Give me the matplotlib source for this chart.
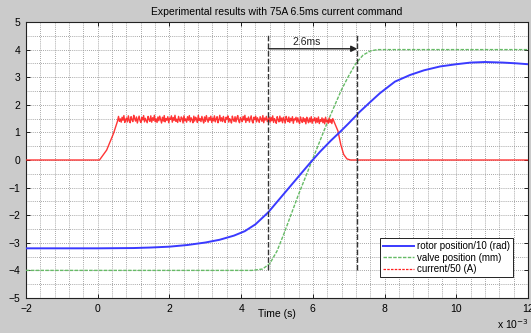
import matplotlib
matplotlib.use("Agg")
import matplotlib.pyplot as plt
from matplotlib.ticker import MultipleLocator
from matplotlib.lines import Line2D

# ---------------- data (time in ms) ----------------
t_rotor = [-2, -1, 0, 1, 1.5, 2, 2.5, 3, 3.4, 3.8,
           4.1, 4.4, 4.76, 5.0, 5.3, 5.6, 5.9, 6.2, 6.5, 6.76,
           7.0, 7.31, 7.6, 7.87, 8.29, 8.71, 9.1, 9.55, 10.0, 10.4,
           10.8, 11.3, 11.7, 12]
rotor = [-3.2, -3.2, -3.2, -3.19, -3.17, -3.14, -3.08, -2.99, -2.89, -2.74,
         -2.58, -2.33, -1.89, -1.52, -1.06, -0.6, -0.14, 0.3, 0.7, 1.02,
         1.33, 1.75, 2.1, 2.42, 2.84, 3.08, 3.25, 3.39, 3.47, 3.53,
         3.55, 3.53, 3.5, 3.47]

t_valve = [-2, 4.3, 4.6, 4.8, 5.0, 5.2, 5.4, 5.6, 5.8, 6.0, 6.2, 6.4,
           6.6, 6.8, 7.0, 7.2, 7.4, 7.6, 7.8, 12]
valve = [-4, -4, -3.95, -3.75, -3.3, -2.65, -1.95, -1.25, -0.6, 0.05, 0.7, 1.35,
         1.95, 2.55, 3.05, 3.5, 3.8, 3.95, 4.0, 4.0]

t_cur_rise = [-2, 0.05, 0.25, 0.44, 0.55]
cur_rise = [0, 0, 0.36, 0.96, 1.4]
cur_band = [1.58, 1.40, 1.49, 1.37, 1.55, 1.44, 1.61, 1.36, 1.47, 1.52,
            1.38, 1.60, 1.43, 1.35, 1.57, 1.46, 1.39, 1.62, 1.50, 1.41,
            1.56, 1.34, 1.48, 1.59, 1.42, 1.36, 1.54, 1.45, 1.61, 1.38,
            1.51, 1.43, 1.35, 1.58, 1.47, 1.40, 1.60, 1.37, 1.53, 1.44,
            1.62, 1.39, 1.49, 1.36, 1.56, 1.42, 1.59, 1.46, 1.34, 1.55,
            1.41, 1.61, 1.38, 1.50, 1.44, 1.57, 1.35, 1.52, 1.47, 1.60,
            1.37, 1.54, 1.43, 1.62, 1.40, 1.48, 1.36, 1.58, 1.45, 1.39,
            1.56, 1.51, 1.34, 1.60, 1.42, 1.49, 1.37, 1.57, 1.44, 1.61,
            1.38, 1.53, 1.46, 1.35, 1.59, 1.41, 1.55, 1.48, 1.36, 1.62,
            1.43, 1.50, 1.39, 1.58, 1.45, 1.34, 1.56, 1.40, 1.61, 1.47,
            1.37, 1.54, 1.44, 1.59, 1.36, 1.52, 1.42, 1.60, 1.38, 1.49,
            1.57, 1.35, 1.46, 1.62, 1.41, 1.53, 1.39, 1.58, 1.43, 1.36,
            1.55, 1.48, 1.60, 1.37, 1.50, 1.44, 1.34, 1.59, 1.46, 1.40,
            1.57, 1.38, 1.52, 1.61, 1.42, 1.35, 1.54, 1.47, 1.39, 1.58,
            1.45, 1.62, 1.36, 1.51, 1.43, 1.56, 1.37, 1.49, 1.60, 1.41,
            1.34, 1.55, 1.46, 1.59, 1.38, 1.53, 1.44, 1.36, 1.57, 1.48,
            1.40, 1.61, 1.35, 1.52, 1.45, 1.58, 1.39, 1.47, 1.56, 1.37,
            1.54, 1.42, 1.60, 1.36, 1.50, 1.43, 1.33, 1.57, 1.46, 1.38,
            1.59, 1.41, 1.52, 1.35, 1.55, 1.44, 1.34, 1.58, 1.47, 1.39,
            1.56, 1.36, 1.51, 1.42, 1.57, 1.33, 1.49, 1.45, 1.55, 1.37,
            1.53, 1.40, 1.32, 1.56, 1.44, 1.36, 1.54, 1.39, 1.50, 1.31,
            1.55, 1.43, 1.35, 1.52, 1.38, 1.57, 1.33, 1.48, 1.42, 1.54,
            1.34, 1.51, 1.37, 1.56, 1.32, 1.46, 1.40, 1.53, 1.35, 1.49,
            1.31, 1.55, 1.38, 1.44, 1.33, 1.52, 1.36, 1.47, 1.32, 1.50]
t_band_start = 0.58
t_band_step = 0.025
t_cur_fall = [6.62, 6.7, 6.78, 6.86, 6.95, 7.05, 12]
cur_fall = [1.3, 1.05, 0.55, 0.2, 0.04, 0.0, 0.0]

marker_t = [4.76, 7.24]
marker_y = (-4.0, 4.55)
arrow_y = 4.03
arrow_label = "2.6ms"

title = "Experimental results with 75A 6.5ms current command"
xlabel = "Time (s)"
legend_labels = ["rotor position/10 (rad)", "valve position (mm)", "current/50 (A)"]
xticks = [-2, 0, 2, 4, 6, 8, 10, 12]
yticks = [-5, -4, -3, -2, -1, 0, 1, 2, 3, 4, 5]

# build current series
t_band = [t_band_start + i * t_band_step for i in range(len(cur_band))]
t_cur = t_cur_rise + t_band + t_cur_fall
cur = cur_rise + cur_band + cur_fall

# ---------------- figure ----------------
plt.rcParams['font.family'] = ['Liberation Sans', 'DejaVu Sans']
fig = plt.figure(figsize=(5.31, 3.33), dpi=100, facecolor='#cbcbcb')
ax = fig.add_axes([26/531, 1-298/333, (528-26)/531, (298-22)/333])
ax.set_facecolor('white')

blue = '#3a3aff'
green = '#66bb66'
red = '#ff2020'
ax.plot(t_rotor, rotor, color=blue, lw=1.4, zorder=4)
ax.plot(t_valve, valve, color=green, lw=1.0, dashes=(2.5, 1), zorder=3)
ax.plot(t_cur, cur, color=red, lw=1.0, alpha=0.9, zorder=3)

ax.vlines(marker_t, marker_y[0], marker_y[1], colors='#333333', linestyles=(0, (4, 1.5)), lw=1.0, zorder=5)
ax.annotate('', xy=(marker_t[1], arrow_y), xytext=(marker_t[0], arrow_y),
            arrowprops=dict(arrowstyle='-|>', color='#222222', lw=1.0,
                            mutation_scale=9, shrinkA=0, shrinkB=0), zorder=6)
ax.text(5.83, 4.27, arrow_label, ha='center', va='center', fontsize=7.5, color='#222222')

ax.set_xlim(-2, 12)
ax.set_ylim(-5, 5)
ax.set_xticks(xticks)
ax.set_yticks(yticks)
ax.xaxis.set_minor_locator(MultipleLocator(0.4))
ax.yaxis.set_minor_locator(MultipleLocator(0.5))
ax.grid(True, which='both', color='#8a8a8a', linestyle=(0, (1, 1.5)), lw=0.6)
ax.set_axisbelow(True)
ax.tick_params(which='major', direction='in', length=3, width=0.6, labelsize=7.5, pad=4,
               top=True, right=True)
ax.tick_params(which='minor', length=0)
for s in ax.spines.values():
    s.set_linewidth(0.8)
    s.set_color('#222222')

ax.set_title(title, fontsize=7.5, pad=5)
ax.set_xlabel(xlabel, fontsize=7.5, labelpad=-3)
fig.text(497/531, 1-324/333, r'x 10$^{-3}$', fontsize=7.5, ha='left', va='center')

handles = [Line2D([], [], color=blue, lw=1.4),
           Line2D([], [], color=green, lw=1.0, dashes=(2.5, 1)),
           Line2D([], [], color=red, lw=0.9, dashes=(2, 1))]
leg = ax.legend(handles, legend_labels, loc='lower right', bbox_to_anchor=(0.97, 0.076),
                borderaxespad=0, fontsize=7, frameon=True, fancybox=False, framealpha=1,
                edgecolor='#222222', handlelength=3.2, handletextpad=0.3,
                borderpad=0.3, labelspacing=0.15)
leg.get_frame().set_linewidth(0.7)

fig.savefig('out.png', dpi=100, facecolor=fig.get_facecolor())
